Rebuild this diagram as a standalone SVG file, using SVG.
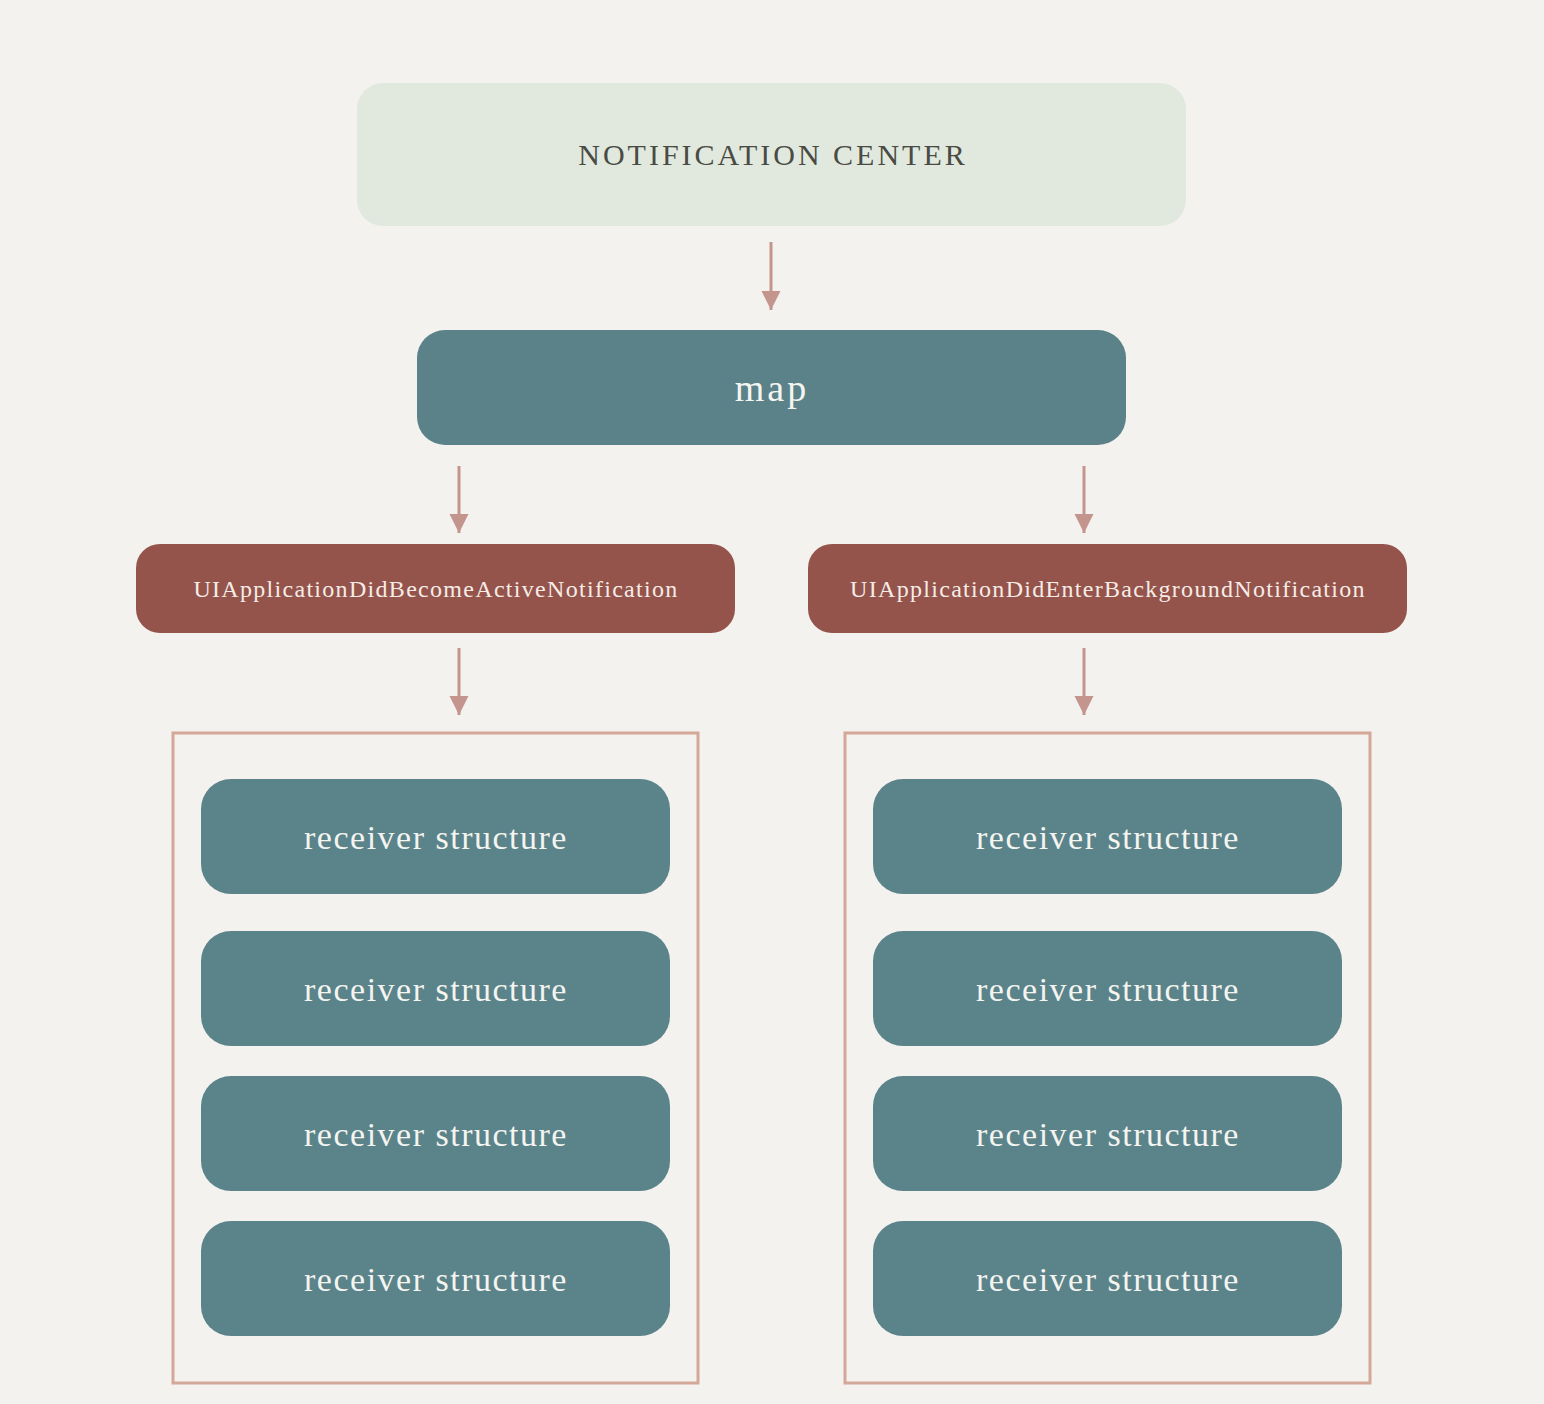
<svg xmlns="http://www.w3.org/2000/svg" width="1544" height="1404" viewBox="0 0 1544 1404">
<defs>
<style>
.t{font-family:"Liberation Serif","DejaVu Serif",serif;text-anchor:middle}
.rcv{fill:#5b838a}
.rt{font-size:34px;fill:#f4f4f0;letter-spacing:1.5px}
.red{fill:#94534b}
.redt{font-size:24px;fill:#f6ece6;letter-spacing:1.3px}
.ctn{fill:none;stroke:#d3a898;stroke-width:3}
.conn{stroke:#c4958d;stroke-width:3;fill:none}
</style>
<marker id="ah" viewBox="0 0 10 10" refX="10" refY="5" markerWidth="6.5" markerHeight="6.5" markerUnits="strokeWidth" orient="auto">
<path d="M0,0 L10,5 L0,10 z" fill="#c4958d"/>
</marker>
</defs>
<rect width="1544" height="1404" fill="#f3f2ef"/>
<g id="notification-center">
<rect x="357" y="83" width="829" height="143" rx="26" fill="#e1e9de"/>
<text class="t" x="773" y="165" font-size="30" fill="#4a4b44" letter-spacing="3">NOTIFICATION CENTER</text>
</g>
<g id="map">
<rect x="417" y="330" width="709" height="115" rx="28" fill="#5b8289"/>
<text class="t" x="772" y="401" font-size="38" fill="#f4f4f0" letter-spacing="3">map</text>
</g>
<g id="notif-active">
<rect class="red" x="136" y="544" width="599" height="89" rx="24"/>
<text class="t redt" x="436" y="597">UIApplicationDidBecomeActiveNotification</text>
</g>
<g id="notif-background">
<rect class="red" x="808" y="544" width="599" height="89" rx="24"/>
<text class="t redt" x="1108" y="597">UIApplicationDidEnterBackgroundNotification</text>
</g>
<g id="list-left">
<rect class="ctn" x="173" y="733" width="525" height="650"/>
</g>
<g id="list-right">
<rect class="ctn" x="845" y="733" width="525" height="650"/>
</g>
<g id="recv-l1"><rect class="rcv" x="201" y="779" width="469" height="115" rx="30"/><text class="t rt" x="436" y="849">receiver structure</text></g>
<g id="recv-l2"><rect class="rcv" x="201" y="931" width="469" height="115" rx="30"/><text class="t rt" x="436" y="1001">receiver structure</text></g>
<g id="recv-l3"><rect class="rcv" x="201" y="1076" width="469" height="115" rx="30"/><text class="t rt" x="436" y="1146">receiver structure</text></g>
<g id="recv-l4"><rect class="rcv" x="201" y="1221" width="469" height="115" rx="30"/><text class="t rt" x="436" y="1291">receiver structure</text></g>
<g id="recv-r1"><rect class="rcv" x="873" y="779" width="469" height="115" rx="30"/><text class="t rt" x="1108" y="849">receiver structure</text></g>
<g id="recv-r2"><rect class="rcv" x="873" y="931" width="469" height="115" rx="30"/><text class="t rt" x="1108" y="1001">receiver structure</text></g>
<g id="recv-r3"><rect class="rcv" x="873" y="1076" width="469" height="115" rx="30"/><text class="t rt" x="1108" y="1146">receiver structure</text></g>
<g id="recv-r4"><rect class="rcv" x="873" y="1221" width="469" height="115" rx="30"/><text class="t rt" x="1108" y="1291">receiver structure</text></g>
<g id="connectors">
<line class="conn" x1="771" y1="242" x2="771" y2="310" marker-end="url(#ah)"/>
<line class="conn" x1="459" y1="466" x2="459" y2="533" marker-end="url(#ah)"/>
<line class="conn" x1="1084" y1="466" x2="1084" y2="533" marker-end="url(#ah)"/>
<line class="conn" x1="459" y1="648" x2="459" y2="715" marker-end="url(#ah)"/>
<line class="conn" x1="1084" y1="648" x2="1084" y2="715" marker-end="url(#ah)"/>
</g>
</svg>
